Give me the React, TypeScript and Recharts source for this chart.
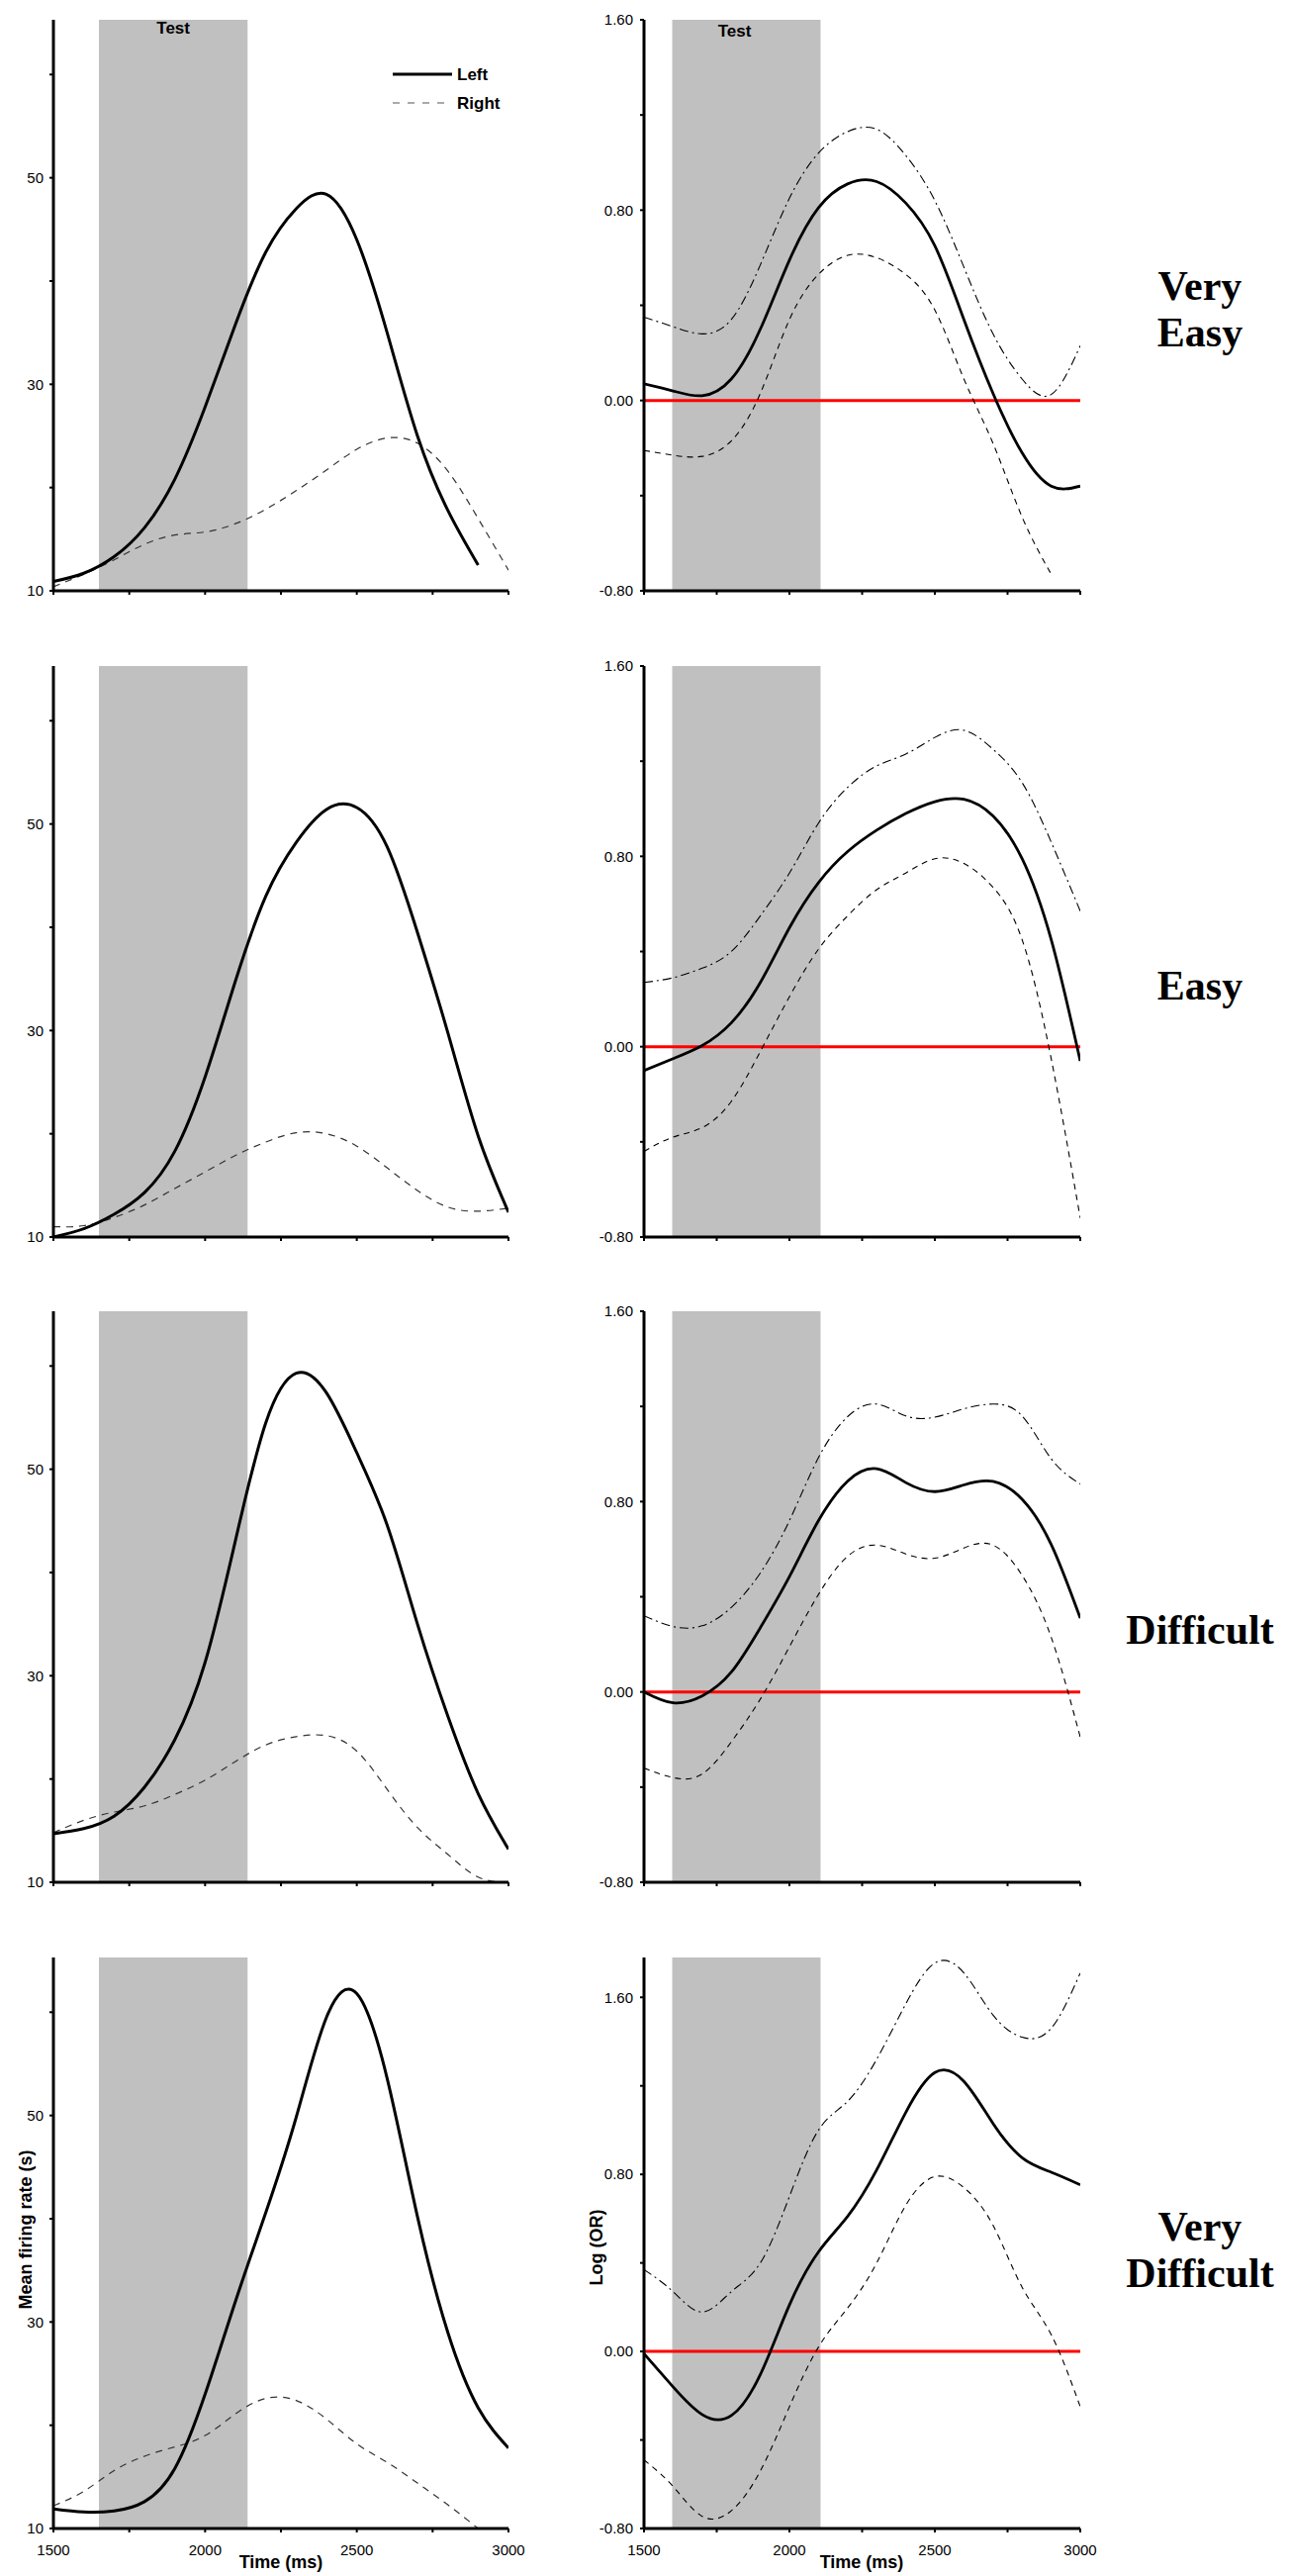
import React from 'react';
import { LineChart, Line, XAxis, YAxis, ReferenceArea, ReferenceLine } from 'recharts';

// ---------- categories / ticks ----------
const TIME = [1500, 1600, 1700, 1800, 1900, 2000, 2100, 2200, 2300, 2400, 2500, 2600, 2700, 2800, 2900, 3000];
const X_TICKS = [1500, 1750, 2000, 2250, 2500, 2750, 3000];
const X_LABELED = [1500, 2000, 2500, 3000];
const RATE_TICKS = [10, 20, 30, 40, 50, 60];
const RATE_LABELED = [10, 30, 50];
const LOGOR_TICKS = [-0.8, -0.4, 0, 0.4, 0.8, 1.2, 1.6];
const LOGOR_LABELED = [-0.8, 0, 0.8, 1.6];
const CONDITIONS = [['Very', 'Easy'], ['Easy'], ['Difficult'], ['Very', 'Difficult']];
const RATE_TEST = [1650, 2140];
const LOGOR_TEST = [1597, 2107];

// ---------- mean firing rate (Left / Right) ----------
const VE_LEFT = [10.9, 11.7, 13.3, 16.1, 20.8, 27.8, 35.8, 42.8, 47.0, 48.4, 44.0, 35.0, 25.0, 17.8, 12.5, null];
const VE_RIGHT = [10.4, 11.6, 13.0, 14.5, 15.4, 15.7, 16.5, 17.9, 19.7, 21.7, 23.7, 24.8, 24.3, 21.6, 17.0, 12.0];
const E_LEFT = [10.0, 10.8, 12.2, 14.3, 18.3, 25.5, 34.8, 43.0, 48.2, 51.4, 51.6, 47.8, 39.5, 29.8, 19.8, 12.4];
const E_RIGHT = [11.0, 11.1, 11.9, 13.1, 14.7, 16.3, 17.9, 19.2, 20.1, 20.0, 18.8, 16.7, 14.5, 12.9, 12.5, 12.8];
const D_LEFT = [14.7, 15.2, 16.4, 19.2, 23.8, 31.3, 43.1, 54.5, 59.3, 57.4, 51.6, 44.6, 35.0, 26.1, 18.6, 13.2];
const D_RIGHT = [14.8, 16.0, 16.8, 17.4, 18.5, 19.9, 21.7, 23.3, 24.1, 24.2, 22.7, 19.0, 15.3, 12.7, 10.5, 10.0];
const VD_LEFT = [11.9, 11.6, 11.7, 12.6, 15.8, 23.0, 32.0, 40.6, 49.8, 59.5, 61.8, 53.6, 40.2, 29.0, 21.7, 17.8];
const VD_RIGHT = [12.2, 13.6, 15.6, 17.0, 17.9, 19.0, 21.1, 22.6, 22.4, 20.6, 18.2, 16.4, 14.4, 12.3, 10.0, null];

// ---------- log odds ratio (mean, upper CI, lower CI) ----------
const VE_MEAN = [0.07, 0.04, 0.02, 0.09, 0.30, 0.59, 0.81, 0.91, 0.92, 0.83, 0.65, 0.34, 0.03, -0.22, -0.36, -0.36];
const VE_UPPER = [0.35, 0.31, 0.28, 0.34, 0.57, 0.85, 1.04, 1.13, 1.14, 1.03, 0.84, 0.56, 0.28, 0.09, 0.025, 0.23];
const VE_LOWER = [-0.21, -0.23, -0.235, -0.17, 0.03, 0.34, 0.53, 0.61, 0.60, 0.53, 0.38, 0.09, -0.18, -0.49, -0.73, null];
const E_MEAN = [-0.10, -0.05, 0.005, 0.10, 0.27, 0.50, 0.69, 0.82, 0.91, 0.98, 1.03, 1.04, 0.97, 0.79, 0.45, -0.06];
const E_UPPER = [0.27, 0.29, 0.33, 0.40, 0.55, 0.73, 0.94, 1.09, 1.18, 1.23, 1.30, 1.33, 1.25, 1.11, 0.86, 0.57];
const E_LOWER = [-0.44, -0.38, -0.34, -0.23, -0.02, 0.21, 0.41, 0.55, 0.66, 0.73, 0.79, 0.77, 0.67, 0.45, -0.05, -0.72];
const D_MEAN = [0.0, -0.046, -0.017, 0.083, 0.27, 0.485, 0.72, 0.886, 0.938, 0.88, 0.842, 0.87, 0.885, 0.81, 0.62, 0.31];
const D_UPPER = [0.32, 0.275, 0.278, 0.355, 0.50, 0.72, 0.985, 1.157, 1.21, 1.16, 1.155, 1.19, 1.21, 1.16, 0.98, 0.874];
const D_LOWER = [-0.32, -0.36, -0.345, -0.21, -0.03, 0.19, 0.41, 0.57, 0.617, 0.58, 0.562, 0.605, 0.617, 0.49, 0.23, -0.19];
const VD_MEAN = [-0.01, -0.16, -0.285, -0.29, -0.104, 0.21, 0.45, 0.61, 0.82, 1.08, 1.26, 1.22, 1.03, 0.875, 0.81, 0.753];
const VD_UPPER = [0.37, 0.27, 0.178, 0.27, 0.40, 0.70, 1.0, 1.13, 1.32, 1.57, 1.755, 1.71, 1.52, 1.42, 1.46, 1.71];
const VD_LOWER = [-0.49, -0.61, -0.745, -0.72, -0.54, -0.25, 0.02, 0.196, 0.40, 0.66, 0.79, 0.74, 0.57, 0.29, 0.076, -0.25];

const RATE_ROWS = [
  { left: VE_LEFT, right: VE_RIGHT },
  { left: E_LEFT, right: E_RIGHT },
  { left: D_LEFT, right: D_RIGHT },
  { left: VD_LEFT, right: VD_RIGHT },
];
const LOGOR_ROWS = [
  { mean: VE_MEAN, upper: VE_UPPER, lower: VE_LOWER, top: 1.6 },
  { mean: E_MEAN, upper: E_UPPER, lower: E_LOWER, top: 1.6 },
  { mean: D_MEAN, upper: D_UPPER, lower: D_LOWER, top: 1.6 },
  { mean: VD_MEAN, upper: VD_UPPER, lower: VD_LOWER, top: 1.78 },
];

// ---------- layout ----------
const FONT = 'Liberation Sans, Arial, Helvetica, sans-serif';
const SERIF = '"Liberation Serif", "Times New Roman", Times, serif';
const ROW_TOPS = [20, 673, 1325, 1978];
const PLOT_H = 577;
const M_TOP = 10;
const M_RIGHT = 30;
const X_AXIS_H = 40;
const CHART_H = M_TOP + PLOT_H + X_AXIS_H;
const CURVE = 'natural' as const;

const tickStyle = { fill: '#000', fontSize: 15, fontFamily: FONT };
const axisLineStyle = { stroke: '#000', strokeWidth: 3 };
const tickLineStyle = { stroke: '#000', strokeWidth: 2 };

const fmtX = (v: number) => (X_LABELED.includes(v) ? String(v) : '');
const fmtRate = (v: number) => (RATE_LABELED.includes(v) ? String(v) : '');
const fmtLog = (v: number) => (LOGOR_LABELED.some((l) => Math.abs(l - v) < 1e-6) ? v.toFixed(2) : '');

const testLabel = (dx: number, offset: number) => ({
  value: 'Test',
  position: 'insideTop' as const,
  offset,
  dx,
  fill: '#000',
  fontSize: 17,
  fontWeight: 'bold',
  fontFamily: FONT,
});

function XAx({ bottom }: { bottom: boolean }) {
  return (
    <XAxis
      dataKey="t"
      type="number"
      domain={[1500, 3000]}
      ticks={X_TICKS}
      allowDataOverflow
      height={X_AXIS_H}
      tickFormatter={bottom ? fmtX : () => ''}
      tick={tickStyle}
      tickSize={4}
      tickMargin={12}
      axisLine={axisLineStyle}
      tickLine={tickLineStyle}
    />
  );
}

function RatePanel({ row }: { row: number }) {
  const r = RATE_ROWS[row];
  const data = TIME.map((t, i) => ({ t, left: r.left[i], right: r.right[i] }));
  return (
    <div style={{ position: 'absolute', left: 0, top: ROW_TOPS[row] - M_TOP }}>
      <LineChart width={54 + 460 + M_RIGHT} height={CHART_H} data={data} margin={{ top: M_TOP, right: M_RIGHT, bottom: 0, left: 0 }}>
        <ReferenceArea
          x1={RATE_TEST[0]}
          x2={RATE_TEST[1]}
          fill="#c0c0c0"
          fillOpacity={1}
          stroke="none"
          label={row === 0 ? testLabel(0, 2) : undefined}
        />
        <XAx bottom={row === 3} />
        <YAxis
          type="number"
          domain={[10, 65.3]}
          allowDataOverflow
          ticks={RATE_TICKS}
          width={54}
          tickFormatter={fmtRate}
          tick={tickStyle}
          tickSize={4}
          tickMargin={6}
          axisLine={axisLineStyle}
          tickLine={tickLineStyle}
        />
        <Line
          dataKey="right"
          name="Right"
          type={CURVE}
          stroke="#333"
          strokeWidth={1.2}
          strokeDasharray="7 6"
          dot={false}
          activeDot={false}
          isAnimationActive={false}
        />
        <Line
          dataKey="left"
          name="Left"
          type={CURVE}
          stroke="#000"
          strokeWidth={3}
          dot={false}
          activeDot={false}
          isAnimationActive={false}
        />
      </LineChart>
    </div>
  );
}

function LogPanel({ row }: { row: number }) {
  const r = LOGOR_ROWS[row];
  const data = TIME.map((t, i) => ({ t, mean: r.mean[i], upper: r.upper[i], lower: r.lower[i] }));
  return (
    <div style={{ position: 'absolute', left: 591, top: ROW_TOPS[row] - M_TOP }}>
      <LineChart width={60 + 441 + M_RIGHT} height={CHART_H} data={data} margin={{ top: M_TOP, right: M_RIGHT, bottom: 0, left: 0 }}>
        <ReferenceArea
          x1={LOGOR_TEST[0]}
          x2={LOGOR_TEST[1]}
          fill="#c0c0c0"
          fillOpacity={1}
          stroke="none"
          label={row === 0 ? testLabel(-12, 5) : undefined}
        />
        <XAx bottom={row === 3} />
        <YAxis
          type="number"
          domain={[-0.8, r.top]}
          allowDataOverflow
          ticks={LOGOR_TICKS}
          width={60}
          tickFormatter={fmtLog}
          tick={tickStyle}
          tickSize={4}
          tickMargin={7}
          axisLine={axisLineStyle}
          tickLine={tickLineStyle}
        />
        <ReferenceLine y={0} stroke="#ff0000" strokeWidth={3} />
        <Line
          dataKey="upper"
          type={CURVE}
          stroke="#000"
          strokeWidth={1.1}
          strokeDasharray="9 4 2 4"
          dot={false}
          activeDot={false}
          isAnimationActive={false}
        />
        <Line
          dataKey="lower"
          type={CURVE}
          stroke="#000"
          strokeWidth={1.1}
          strokeDasharray="6 5"
          dot={false}
          activeDot={false}
          isAnimationActive={false}
        />
        <Line
          dataKey="mean"
          type={CURVE}
          stroke="#000"
          strokeWidth={2.8}
          dot={false}
          activeDot={false}
          isAnimationActive={false}
        />
      </LineChart>
    </div>
  );
}

const LABEL_BASELINES = [[303, 350], [1010], [1661], [2264, 2311]];

function Overlay() {
  return (
    <svg
      width={1303}
      height={2603}
      style={{ position: 'absolute', left: 0, top: 0, pointerEvents: 'none' }}
    >
      {/* legend */}
      <line x1={397} y1={75} x2={457} y2={75} stroke="#000" strokeWidth={3} />
      <text x={462} y={75} dominantBaseline="central" fontFamily={FONT} fontWeight="bold" fontSize={17}>
        Left
      </text>
      <line x1={397} y1={104} x2={457} y2={104} stroke="#555" strokeWidth={1.2} strokeDasharray="7 8" />
      <text x={462} y={104} dominantBaseline="central" fontFamily={FONT} fontWeight="bold" fontSize={17}>
        Right
      </text>

      {/* condition labels */}
      {CONDITIONS.map((lines, r) =>
        lines.map((txt, j) => (
          <text
            key={`${r}-${j}`}
            x={1213}
            y={LABEL_BASELINES[r][j]}
            textAnchor="middle"
            fontFamily={SERIF}
            fontWeight="bold"
            fontSize={42}
          >
            {txt}
          </text>
        ))
      )}

      {/* axis titles */}
      <text
        x={26}
        y={2253}
        textAnchor="middle"
        dominantBaseline="central"
        transform="rotate(-90 26 2253)"
        fontFamily={FONT}
        fontWeight="bold"
        fontSize={18}
      >
        Mean firing rate (s)
      </text>
      <text
        x={603}
        y={2271}
        textAnchor="middle"
        dominantBaseline="central"
        transform="rotate(-90 603 2271)"
        fontFamily={FONT}
        fontWeight="bold"
        fontSize={18}
      >
        Log (OR)
      </text>
      <text x={284} y={2589} textAnchor="middle" dominantBaseline="central" fontFamily={FONT} fontWeight="bold" fontSize={18}>
        Time (ms)
      </text>
      <text x={871} y={2589} textAnchor="middle" dominantBaseline="central" fontFamily={FONT} fontWeight="bold" fontSize={18}>
        Time (ms)
      </text>
    </svg>
  );
}

export default function App() {
  return (
    <div style={{ position: 'absolute', left: 0, top: 0, width: 1303, height: 2603, background: '#fff' }}>
      {[0, 1, 2, 3].map((r) => (
        <RatePanel key={`rate-${r}`} row={r} />
      ))}
      {[0, 1, 2, 3].map((r) => (
        <LogPanel key={`log-${r}`} row={r} />
      ))}
      <Overlay />
    </div>
  );
}
